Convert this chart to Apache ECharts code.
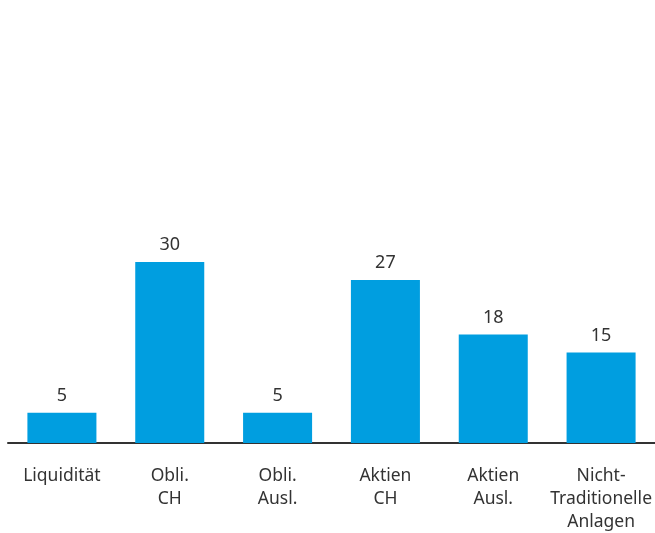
<!DOCTYPE html>
<html>
<head>
<meta charset="utf-8">
<script src="https://cdn.jsdelivr.net/npm/echarts@6/dist/echarts.min.js"></script>
<style>
  html, body { margin: 0; padding: 0; background: #fff; }
  #chart { width: 655px; height: 533px; }
</style>
</head>
<body>
<div id="chart"></div>
<script>
// Kategorien und Werte (Anteile in %)
const categories = ['Liquidität', 'Obli.\nCH', 'Obli.\nAusl.', 'Aktien\nCH', 'Aktien\nAusl.', 'Nicht-\nTraditionelle\nAnlagen']
const values = [5, 30, 5, 27, 18, 15]

const chart = echarts.init(document.getElementById('chart'))
const fontFamily = '"Noto Sans", sans-serif'

chart.setOption({
  animation: false,
  grid: {
    left: 8,
    right: 0,
    top: 262,
    bottom: 90,
    outerBoundsMode: 'none'
  },
  xAxis: {
    type: 'category',
    data: categories,
    axisLine: { lineStyle: { color: '#333', width: 2 } },
    axisTick: { show: false },
    axisLabel: {
      color: '#333',
      fontSize: 17.5,
      fontFamily: fontFamily,
      lineHeight: 23,
      margin: 22,
      interval: 0
    }
  },
  yAxis: {
    type: 'value',
    min: 0,
    max: 30,
    show: false,
    splitLine: { show: false }
  },
  series: [{
    type: 'bar',
    data: values,
    barCategoryGap: '36%',
    itemStyle: { color: '#009EE0' },
    label: {
      show: true,
      position: 'top',
      distance: 8,
      color: '#333',
      fontSize: 18,
      fontFamily: fontFamily
    }
  }]
})
</script>
</body>
</html>
